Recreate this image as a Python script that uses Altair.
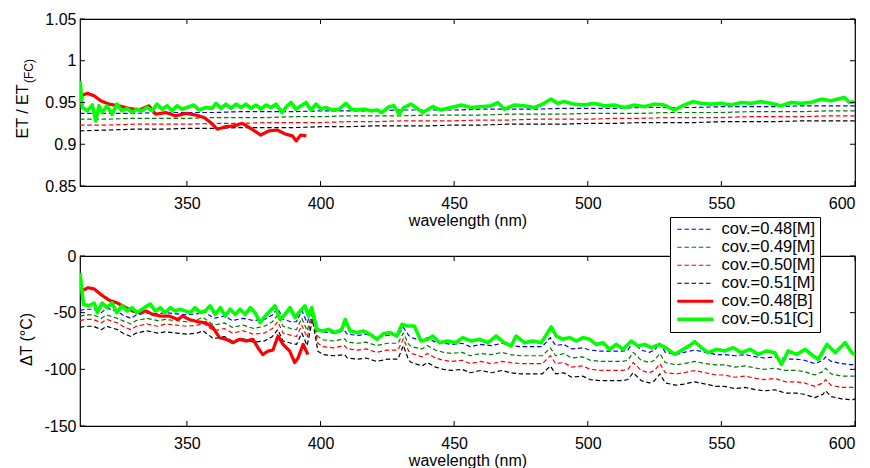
import altair as alt
import pandas as pd

SERIES = ["cov.=0.48[M]", "cov.=0.49[M]", "cov.=0.50[M]", "cov.=0.51[M]", "cov.=0.48[B]", "cov.=0.51[C]"]
COLORS = ["#0000ff", "#007a00", "#ff0000", "#000000", "#ff0000", "#00ff00"]
DASHES = [[4.5, 2.7], [4.5, 2.7], [4.5, 2.7], [4.5, 2.7], [1, 0], [1, 0]]
WIDTHS = [1.2, 1.2, 1.2, 1.2, 3.2, 3.6]

X_TICKS = [350, 400, 450, 500, 550, 600]
TOP_Y_TICKS = [0.85, 0.9, 0.95, 1, 1.05]
BOT_Y_TICKS = [-150, -100, -50, 0]

# ---------------- top panel: ET / ET(FC) ----------------
top_m_wl = [310, 320, 330, 340, 350, 360, 370, 380, 390, 400, 410, 420, 430, 440, 450,
            460, 470, 480, 490, 500, 510, 520, 530, 540, 550, 560, 570, 580, 590, 600]
top_m48 = [0.937, 0.937, 0.937, 0.938, 0.938, 0.938, 0.939, 0.939, 0.939, 0.940, 0.940, 0.940, 0.941, 0.941, 0.941,
           0.942, 0.942, 0.942, 0.943, 0.943, 0.943, 0.944, 0.944, 0.944, 0.945, 0.945, 0.945, 0.946, 0.946, 0.946]
top_m49 = [0.930, 0.930, 0.931, 0.931, 0.931, 0.932, 0.932, 0.932, 0.933, 0.933, 0.934, 0.934, 0.934, 0.935, 0.935,
           0.935, 0.936, 0.936, 0.936, 0.937, 0.937, 0.937, 0.938, 0.938, 0.938, 0.939, 0.939, 0.939, 0.940, 0.940]
top_m50 = [0.923, 0.923, 0.924, 0.924, 0.924, 0.925, 0.925, 0.926, 0.926, 0.926, 0.927, 0.927, 0.928, 0.928, 0.928,
           0.929, 0.929, 0.930, 0.930, 0.930, 0.931, 0.931, 0.932, 0.932, 0.932, 0.933, 0.933, 0.933, 0.934, 0.934]
top_m51 = [0.916, 0.917, 0.918, 0.918, 0.919, 0.919, 0.920, 0.920, 0.920, 0.921, 0.921, 0.922, 0.922, 0.922, 0.923,
           0.923, 0.924, 0.924, 0.924, 0.925, 0.925, 0.926, 0.926, 0.926, 0.927, 0.927, 0.927, 0.928, 0.928, 0.928]

top_b48_wl = [310.5, 312.7, 315.3, 317.8, 320.9, 324.6, 328.3, 332.1, 335.8, 338.3, 342.1, 345.8, 349.6, 353.3, 356.4,
              358.9, 361.4, 364.5, 367.6, 370.7, 373.9, 377.6, 380.7, 383.8, 387.0, 389.5, 390.9, 392.6, 394.7]
top_b48 = [0.958, 0.961, 0.958, 0.952, 0.948, 0.946, 0.943, 0.941, 0.946, 0.936, 0.938, 0.934, 0.937, 0.935, 0.932,
           0.926, 0.918, 0.921, 0.922, 0.925, 0.919, 0.911, 0.916, 0.917, 0.912, 0.910, 0.904, 0.911, 0.910]

top_c51_wl = [310.0, 310.9, 312.7, 314.6, 315.9, 317.1, 318.3, 320.1, 322.0, 323.8, 325.7, 327.6, 329.5, 331.3, 333.2,
              335.1, 337.0, 338.8, 340.7, 342.6, 344.4, 346.3, 348.2, 350.0, 352.6, 354.5, 357.1, 359.4, 360.9, 362.8,
              364.6, 366.5, 368.4, 370.2, 372.1, 374.0, 375.9, 377.7, 379.6, 381.5, 383.3, 385.6, 387.5, 389.0, 390.8,
              392.7, 394.6, 396.4, 398.3, 400.2, 402.0, 404.3, 406.9, 409.5, 411.4, 413.7, 416.3, 418.9, 421.2, 423.0,
              425.6, 427.5, 429.4, 431.2, 433.9, 438.2, 442.0, 445.0, 448.8, 452.6, 456.3, 460.0, 463.8, 466.3, 468.8,
              472.5, 476.3, 480.0, 483.1, 486.2, 488.8, 491.2, 495.0, 498.7, 502.4, 506.2, 509.9, 513.7, 517.4, 521.2,
              524.9, 528.6, 532.4, 536.1, 539.3, 542.4, 546.1, 549.9, 553.6, 557.3, 561.1, 564.8, 568.6, 572.3, 576.0,
              579.8, 583.5, 587.3, 591.0, 593.5, 596.0, 597.9, 600.0]
top_c51 = [0.976, 0.944, 0.940, 0.947, 0.928, 0.946, 0.938, 0.946, 0.936, 0.948, 0.940, 0.943, 0.938, 0.942, 0.940,
           0.944, 0.940, 0.948, 0.942, 0.946, 0.940, 0.946, 0.942, 0.944, 0.947, 0.941, 0.944, 0.943, 0.949, 0.943,
           0.948, 0.943, 0.948, 0.944, 0.948, 0.943, 0.947, 0.942, 0.947, 0.944, 0.948, 0.938, 0.946, 0.950, 0.942,
           0.946, 0.950, 0.941, 0.948, 0.942, 0.944, 0.941, 0.942, 0.949, 0.942, 0.941, 0.942, 0.940, 0.941, 0.938,
           0.945, 0.946, 0.936, 0.944, 0.948, 0.938, 0.945, 0.941, 0.944, 0.947, 0.944, 0.945, 0.946, 0.950, 0.942,
           0.947, 0.946, 0.944, 0.948, 0.954, 0.949, 0.951, 0.948, 0.947, 0.949, 0.946, 0.947, 0.944, 0.947, 0.945,
           0.948, 0.947, 0.941, 0.947, 0.951, 0.949, 0.948, 0.949, 0.947, 0.950, 0.949, 0.951, 0.949, 0.946, 0.950,
           0.949, 0.950, 0.954, 0.952, 0.954, 0.956, 0.950, 0.951]

# ---------------- bottom panel: delta T ----------------
bot_m_wl = [310, 312, 315, 318, 320, 324, 326, 329, 331, 335, 339, 342, 346, 350, 354, 356, 360, 364, 367, 371,
            375, 379, 382, 384, 386, 389, 391, 393, 395, 397, 399, 401, 405, 409, 410, 414, 417, 421, 425, 429,
            431, 433, 434, 438, 440, 443, 446, 449, 453, 456, 460, 464, 468, 471, 475, 479, 483, 486, 488, 491,
            494, 498, 501, 505, 509, 513, 515, 517, 520, 523, 525, 527, 529, 533, 536, 540, 544, 548, 551, 555,
            559, 563, 566, 570, 574, 578, 581, 585, 588, 589, 591, 595, 599, 600]
bot_m48 = [-48, -47, -47, -50, -46, -49, -52, -55, -52, -50, -51, -50, -51, -52, -51, -48, -55, -53, -57, -55,
           -57, -56, -52, -46, -56, -58, -58, -48, -59, -46, -64, -67, -68, -66, -69, -70, -69, -72, -70, -70,
           -63, -70, -72, -75, -72, -76, -77, -78, -77, -80, -78, -79, -77, -79, -80, -80, -80, -72, -79, -78,
           -82, -81, -83, -84, -84, -84, -83, -76, -83, -85, -83, -77, -85, -87, -85, -83, -85, -87, -87, -88,
           -87, -89, -90, -89, -91, -91, -92, -95, -92, -89, -93, -95, -96, -95]
bot_m49 = [-53, -52, -52, -55, -52, -55, -57, -60, -57, -55, -57, -56, -57, -58, -56, -54, -61, -59, -63, -61,
           -64, -62, -58, -52, -62, -64, -65, -55, -66, -49, -71, -74, -75, -73, -76, -77, -76, -79, -77, -77,
           -68, -78, -80, -82, -79, -83, -85, -86, -85, -88, -86, -87, -85, -87, -88, -88, -88, -81, -88, -86,
           -90, -89, -92, -93, -93, -93, -92, -85, -92, -94, -92, -86, -94, -96, -95, -93, -95, -96, -96, -98,
           -97, -99, -100, -99, -101, -101, -102, -105, -102, -99, -104, -106, -106, -106]
bot_m50 = [-57, -56, -56, -59, -56, -59, -62, -65, -62, -60, -62, -60, -61, -62, -61, -59, -66, -64, -68, -66,
           -69, -68, -64, -58, -68, -70, -71, -61, -72, -52, -77, -80, -81, -79, -82, -83, -82, -85, -83, -83,
           -73, -84, -86, -89, -86, -90, -92, -93, -92, -95, -93, -95, -93, -94, -95, -95, -95, -88, -95, -94,
           -98, -97, -100, -101, -101, -101, -100, -94, -101, -103, -101, -95, -103, -104, -103, -101, -103, -105, -105, -107,
           -106, -108, -109, -108, -111, -111, -112, -115, -112, -109, -114, -116, -116, -116]
bot_m51 = [-63, -62, -62, -65, -62, -65, -68, -71, -68, -66, -68, -67, -68, -69, -68, -66, -73, -71, -75, -73,
           -76, -75, -71, -65, -75, -77, -78, -68, -79, -56, -84, -87, -88, -87, -90, -91, -90, -93, -91, -91,
           -79, -92, -94, -97, -94, -98, -100, -101, -100, -103, -101, -103, -101, -103, -104, -104, -104, -97, -104, -103,
           -107, -106, -109, -110, -110, -110, -109, -103, -110, -112, -110, -104, -112, -114, -113, -111, -113, -115, -115, -117,
           -116, -118, -119, -118, -121, -121, -122, -125, -122, -119, -124, -126, -127, -126]

bot_b48_wl = [310.5, 312.9, 315.3, 317.8, 320.9, 324.0, 327.2, 329.7, 332.2, 334.7, 337.2, 340.3, 343.4, 346.6, 348.4,
              350.9, 354.1, 357.2, 359.7, 362.2, 364.7, 367.2, 369.7, 372.2, 374.7, 376.6, 378.4, 380.3, 382.2, 384.1,
              386.0, 388.5, 390.3, 391.6, 393.5, 395.3]
bot_b48 = [-31, -28, -29, -34, -39, -41.5, -45.6, -48.5, -50, -48.5, -51.5, -53, -53, -56, -53,
           -56, -58, -59, -63, -72, -73.5, -76.5, -73.5, -75, -73.5, -81, -87, -84, -83, -70.6,
           -78, -84, -94, -90, -78, -87]

bot_c51_wl = [310.0, 311.3, 313.3, 315.3, 316.5, 318.3, 320.1, 322.0, 323.8, 325.7, 327.6, 329.5, 331.3, 333.2, 335.1,
              336.3, 338.2, 340.0, 341.9, 343.8, 345.6, 347.5, 349.4, 351.2, 353.1, 355.0, 356.8, 358.7, 360.6, 362.5,
              364.3, 366.2, 368.1, 369.9, 371.8, 373.7, 375.5, 377.4, 379.3, 381.1, 383.0, 384.9, 386.7, 388.6, 390.5,
              392.4, 394.2, 395.5, 396.7, 398.6, 400.5, 403.0, 405.5, 408.0, 409.2, 411.1, 413.6, 416.1, 418.6, 421.1,
              423.6, 426.1, 428.6, 430.5, 432.6, 435.1, 437.6, 440.1, 442.0, 444.5, 447.6, 450.7, 453.2, 456.3, 459.5,
              462.6, 465.7, 468.8, 471.3, 473.2, 476.3, 479.4, 482.6, 485.0, 486.3, 488.2, 490.7, 493.2, 495.7, 498.2,
              500.7, 503.2, 505.7, 508.2, 510.7, 513.2, 516.3, 518.8, 521.3, 523.8, 526.9, 530.0, 532.5, 535.7, 538.8,
              540.0, 542.5, 545.0, 548.2, 551.3, 554.4, 557.5, 560.7, 563.8, 566.9, 570.0, 572.5, 575.0, 578.2, 581.3,
              584.4, 586.3, 589.5, 592.6, 596.3, 598.8, 600.0]
bot_c51 = [-15, -42.6, -44, -41.5, -50, -41.5, -45.6, -41.5, -50, -44, -48.5, -45.6, -50, -47, -44,
           -42.4, -48.5, -45.6, -50, -45.6, -48.5, -47, -48.5, -50, -45.6, -50, -48.5, -44, -51.5, -45.6,
           -53, -47, -51.5, -47, -51.5, -45.6, -50, -58.8, -53, -48.5, -44, -56, -51.5, -45.6, -54.4,
           -48.5, -44, -53, -45.6, -64.7, -66.2, -64.7, -67.6, -64.7, -55.9, -66.2, -67.6, -66.2, -69.1, -73.5,
           -68.5, -67.6, -70.6, -60.3, -61.8, -61.8, -75, -73.5, -70.6, -76.5, -75, -76.5, -72, -75, -73.5,
           -76.5, -70.6, -76.5, -79.4, -70.6, -76.5, -75, -76.5, -67.6, -62.6, -70.6, -73.5, -72, -75, -72,
           -73.5, -78, -76.5, -82.4, -78, -82.4, -75, -79.4, -78, -80.9, -78, -82.4, -86.8, -82.4, -78,
           -75.6, -80.9, -85.3, -82.4, -83.8, -80.9, -85.3, -82.4, -86.8, -83.8, -85.3, -95.6, -83.8, -86.8, -82.4,
           -88.2, -91.2, -78, -85.3, -76.5, -85.3, -86.8]


def long_df(parts):
    rows = []
    for name, wls, vals in parts:
        for w, v in zip(wls, vals):
            rows.append({"wl": w, "val": v, "series": name})
    return pd.DataFrame(rows)


top_df = long_df([
    (SERIES[0], top_m_wl, top_m48), (SERIES[1], top_m_wl, top_m49),
    (SERIES[2], top_m_wl, top_m50), (SERIES[3], top_m_wl, top_m51),
    (SERIES[4], top_b48_wl, top_b48), (SERIES[5], top_c51_wl, top_c51),
])
bot_df = long_df([
    (SERIES[0], bot_m_wl, bot_m48), (SERIES[1], bot_m_wl, bot_m49),
    (SERIES[2], bot_m_wl, bot_m50), (SERIES[3], bot_m_wl, bot_m51),
    (SERIES[4], bot_b48_wl, bot_b48), (SERIES[5], bot_c51_wl, bot_c51),
])

W = 775
FONT = "Liberation Sans"


def panel(df, ydom, yticks, H, ytitle, title_x, title_y, legend):
    xenc = alt.X("wl:Q", scale=alt.Scale(domain=[310, 600], nice=False, zero=False),
                 axis=alt.Axis(values=X_TICKS, title="wavelength (nm)", ticks=False, domain=False,
                               grid=False, labelPadding=9, titlePadding=1,
                               labelExpr="'' + datum.value"))
    yenc = alt.Y("val:Q", scale=alt.Scale(domain=ydom, nice=False, zero=False),
                 axis=alt.Axis(values=yticks, title=ytitle, ticks=False, domain=False, grid=False,
                               labelPadding=4, titleX=title_x, titleY=title_y,
                               titleAlign="center", titleBaseline="middle", titleAngle=270,
                               labelExpr="'' + datum.value"))
    lines = alt.Chart(df).mark_line(clip=True, strokeJoin="round").encode(
        x=xenc, y=yenc,
        color=alt.Color("series:N", scale=alt.Scale(domain=SERIES, range=COLORS), legend=legend),
        strokeDash=alt.StrokeDash("series:N", scale=alt.Scale(domain=SERIES, range=DASHES), legend=legend),
        strokeWidth=alt.StrokeWidth("series:N", scale=alt.Scale(type="ordinal", domain=SERIES, range=WIDTHS),
                                    legend=legend),
        order=alt.Order("wl:Q"),
    )
    xt = pd.DataFrame({"wl": X_TICKS})
    yt = pd.DataFrame({"val": yticks})
    tb = alt.Chart(xt).mark_rule(color="black", strokeWidth=1).encode(x=xenc, y=alt.value(H), y2=alt.value(H - 5))
    tt = alt.Chart(xt).mark_rule(color="black", strokeWidth=1).encode(x=xenc, y=alt.value(0), y2=alt.value(5))
    tl = alt.Chart(yt).mark_rule(color="black", strokeWidth=1).encode(y=yenc, x=alt.value(0), x2=alt.value(5))
    tr = alt.Chart(yt).mark_rule(color="black", strokeWidth=1).encode(y=yenc, x=alt.value(W), x2=alt.value(W - 5))
    return lines, [tb, tt, tl, tr]


top_lines, top_ticks = panel(top_df, [0.85, 1.05], TOP_Y_TICKS, 167, "ET / ET", -58, 92, None)

sub_df = pd.DataFrame({"t": ["(FC)"]})
sub = alt.Chart(sub_df).mark_text(angle=270, fontSize=12, font=FONT, align="center", baseline="middle",
                                  color="black").encode(
    text="t:N", x=alt.value(-51), y=alt.value(52))

top = alt.layer(top_lines, *top_ticks, sub).properties(width=W, height=167)

leg = alt.Legend(orient="none", legendX=590, legendY=-39, title=None,
                 symbolType="M-3,0H3", symbolSize=144, symbolOffset=13, labelOffset=18,
                 labelFontSize=16.5, labelFont=FONT, labelColor="black",
                 strokeColor="black", fillColor="white", padding=4, rowPadding=1,
                 symbolFillColor="transparent")
bot_lines, bot_ticks = panel(bot_df, [-150, 0], BOT_Y_TICKS, 170, "ΔT (°C)", -54, 83, leg)
bottom = alt.layer(bot_lines, *bot_ticks).properties(width=W, height=170)

chart = alt.vconcat(top, bottom, spacing=70, bounds="flush").resolve_scale(
    color="independent", strokeDash="independent", strokeWidth="independent"
).properties(
    padding={"left": 13, "top": 10, "right": 0, "bottom": 0},
    background="white"
).configure_view(
    stroke="black", strokeWidth=1.2
).configure_axis(
    labelFont=FONT, titleFont=FONT, labelFontSize=16, titleFontSize=16,
    labelColor="black", titleColor="black", titleFontWeight="normal"
)

chart.save("out.html", embed_options={"renderer": "svg", "actions": False})
